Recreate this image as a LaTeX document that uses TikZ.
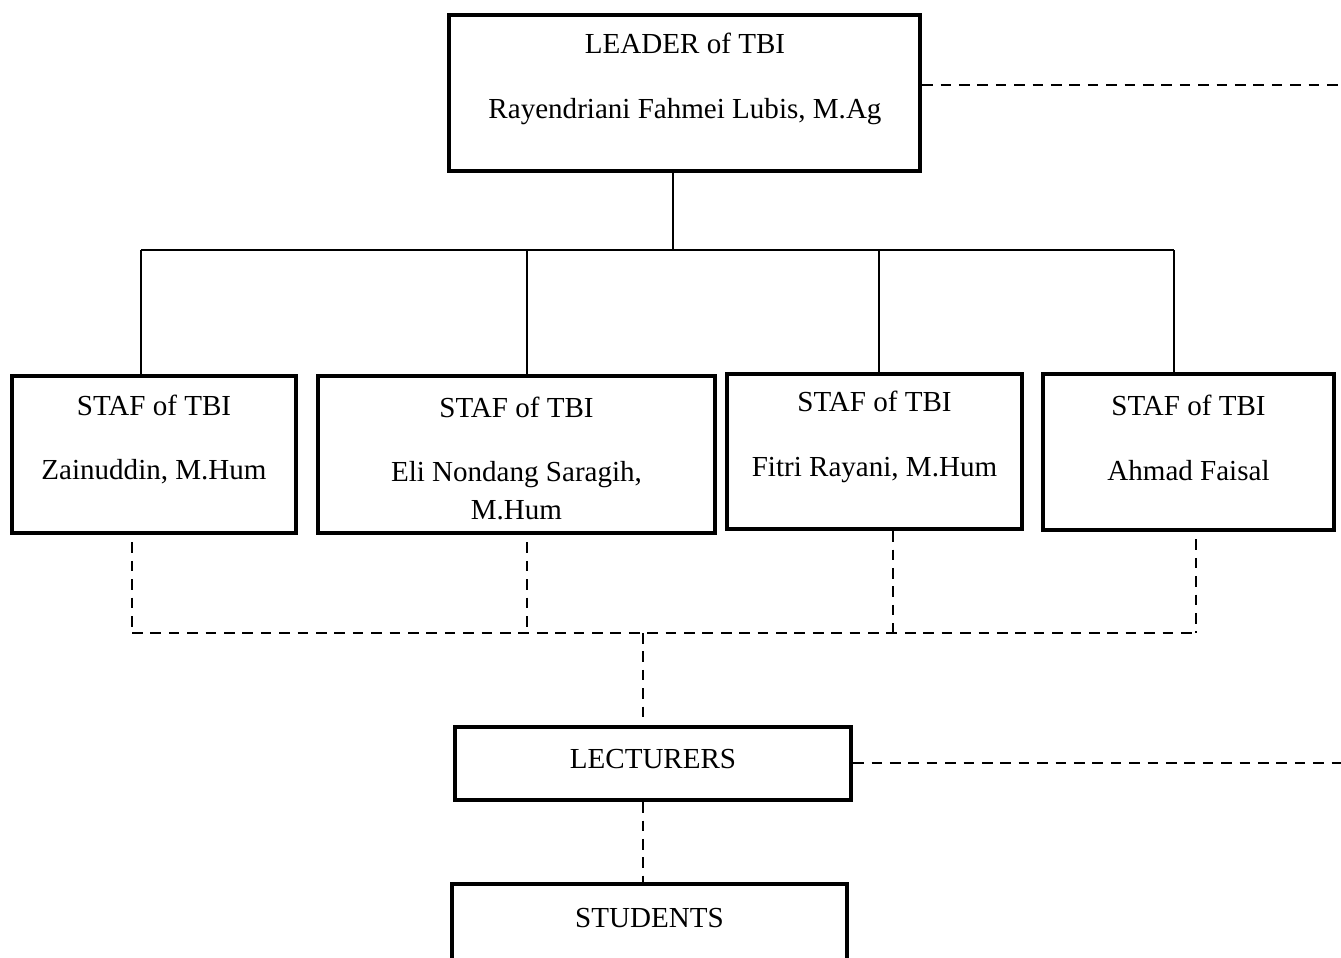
\documentclass[tikz,border=0pt]{standalone}
\usepackage{fontspec}
\setmainfont{Liberation Serif}
\usepackage{tikz}
\usetikzlibrary{positioning,calc}
\tikzset{
  box/.style={rectangle,draw=black,line width=1.8pt,inner sep=0pt},
  txt/.style={align=center,inner sep=0pt,font=\fontsize{12}{15.7}\selectfont},
  link/.style={draw=black,line width=0.6pt},
  dline/.style={draw=black,line width=1pt,dash pattern=on 4.4pt off 3.2pt},
}

\begin{document}
\begin{tikzpicture}[x=0.413pt,y=-0.413pt]
\useasboundingbox (0,0) rectangle (1341,958);
\node[box,minimum width=194.5pt,minimum height=64.4pt] (leader) at (684.5,93) {};
\node[box,minimum width=117.3pt,minimum height=64.8pt] (staf1) at (154,454.5) {};
\node[box,minimum width=164pt,minimum height=64.8pt] (staf2) at (516.5,454.5) {};
\node[box,minimum width=121.8pt,minimum height=64pt] (staf3) at (874.5,451.5) {};
\node[box,minimum width=120.2pt,minimum height=64.4pt] (staf4) at (1188.5,452) {};
\node[box,minimum width=163.5pt,minimum height=30.1pt] (lect) at (653,763.5) {};
\node[box,minimum width=163.1pt,minimum height=41.3pt] (stud) at (649.5,934) {};
\node[txt] (leadertxt) at (685,78.5) {LEADER of TBI\\[11.1pt]Rayendriani Fahmei Lubis, M.Ag};
\node[txt] (staf1txt) at (154,439.5) {STAF of TBI\\[11.1pt]Zainuddin, M.Hum};
\node[txt] (staf2txt) at (516.5,458.5) {STAF of TBI\\[11.1pt]Eli Nondang Saragih,\\M.Hum};
\node[txt] (staf3txt) at (874.5,436.5) {STAF of TBI\\[11.1pt]Fitri Rayani, M.Hum};
\node[txt] (staf4txt) at (1188.5,437.5) {STAF of TBI\\[11.1pt]Ahmad Faisal};
\node[txt] (lecttxt) at (653,759) {LECTURERS};
\node[txt] (studtxt) at (649.5,918) {STUDENTS};
\coordinate (bus) at (673,250);
\coordinate (b1) at (141,250);
\coordinate (b2) at (527,250);
\coordinate (b3) at (879,250);
\coordinate (b4) at (1174,250);
\coordinate (d1) at (132,633);
\coordinate (d2) at (527,633);
\coordinate (d3) at (893,633);
\coordinate (d4) at (1196,633);
\coordinate (dm) at (643,633);
\coordinate (leadR) at (1341,85);
\coordinate (lectR) at (1341,763);
\draw[link] (leader.south -| bus) -- (bus);
\draw[link] (b1) -- (b4);
\draw[link] (b1) -- (staf1.north -| b1);
\draw[link] (b2) -- (staf2.north -| b2);
\draw[link] (b3) -- (staf3.north -| b3);
\draw[link] (b4) -- (staf4.north -| b4);
\draw[dline] ([yshift=-3pt]staf1.south -| d1) -- (d1);
\draw[dline] ([yshift=-3pt]staf2.south -| d2) -- (d2);
\draw[dline] (staf3.south -| d3) -- (d3);
\draw[dline] ([yshift=-3pt]staf4.south -| d4) -- (d4);
\draw[dline] (d1) -- (d4);
\draw[dline] (dm) -- (lect.north -| dm);
\draw[dline] (lect.south -| dm) -- (stud.north -| dm);
\draw[dline] (leader.east |- leadR) -- (leadR);
\draw[dline] (lect.east |- lectR) -- (lectR);
\end{tikzpicture}
\end{document}
